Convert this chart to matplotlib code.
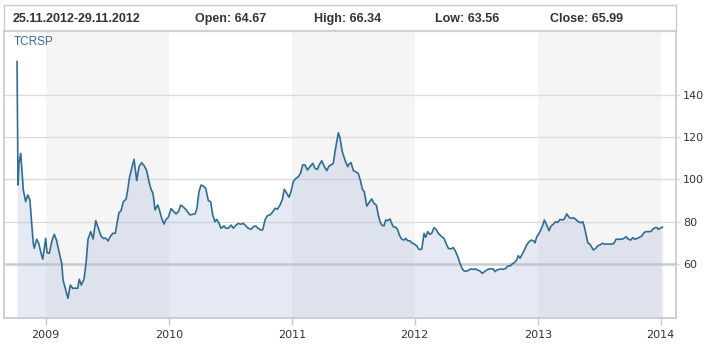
import matplotlib.pyplot as plt
from matplotlib.lines import Line2D

# weekly closes (decimal year, value)
t = [2008.767, 2008.775, 2008.783, 2008.797, 2008.818, 2008.837, 2008.854, 2008.872,
     2008.886, 2008.899, 2008.907, 2008.927, 2008.943, 2008.959, 2008.976, 2009.000,
     2009.011, 2009.029, 2009.051, 2009.070, 2009.089, 2009.108, 2009.130, 2009.141,
     2009.163, 2009.181, 2009.200, 2009.220, 2009.238, 2009.260, 2009.273, 2009.289,
     2009.311, 2009.328, 2009.344, 2009.366, 2009.385, 2009.407, 2009.428, 2009.450,
     2009.468, 2009.488, 2009.507, 2009.525, 2009.545, 2009.566, 2009.577, 2009.596,
     2009.612, 2009.631, 2009.653, 2009.667, 2009.680, 2009.699, 2009.718, 2009.740,
     2009.759, 2009.780, 2009.802, 2009.821, 2009.840, 2009.856, 2009.872, 2009.889,
     2009.911, 2009.927, 2009.943, 2009.962, 2009.978, 2009.997, 2010.019, 2010.037,
     2010.059, 2010.078, 2010.098, 2010.116, 2010.138, 2010.154, 2010.173, 2010.192,
     2010.214, 2010.230, 2010.246, 2010.263, 2010.281, 2010.301, 2010.322, 2010.341,
     2010.358, 2010.376, 2010.390, 2010.407, 2010.425, 2010.450, 2010.466, 2010.485,
     2010.507, 2010.525, 2010.547, 2010.566, 2010.585, 2010.607, 2010.628, 2010.647,
     2010.669, 2010.688, 2010.707, 2010.726, 2010.748, 2010.764, 2010.783, 2010.802,
     2010.824, 2010.846, 2010.864, 2010.883, 2010.905, 2010.924, 2010.940, 2010.959,
     2010.978, 2010.994, 2011.013, 2011.035, 2011.054, 2011.073, 2011.089, 2011.108,
     2011.127, 2011.149, 2011.171, 2011.189, 2011.208, 2011.224, 2011.244, 2011.263,
     2011.285, 2011.303, 2011.320, 2011.338, 2011.352, 2011.366, 2011.379, 2011.393,
     2011.411, 2011.428, 2011.441, 2011.455, 2011.468, 2011.482, 2011.501, 2011.520,
     2011.541, 2011.561, 2011.574, 2011.590, 2011.610, 2011.628, 2011.650, 2011.669,
     2011.688, 2011.704, 2011.718, 2011.732, 2011.750, 2011.764, 2011.780, 2011.799,
     2011.813, 2011.826, 2011.846, 2011.862, 2011.875, 2011.894, 2011.913, 2011.927,
     2011.943, 2011.962, 2011.980, 2011.997, 2012.016, 2012.035, 2012.057, 2012.076,
     2012.089, 2012.106, 2012.124, 2012.138, 2012.157, 2012.173, 2012.192, 2012.214,
     2012.238, 2012.254, 2012.273, 2012.293, 2012.314, 2012.333, 2012.350, 2012.368,
     2012.387, 2012.403, 2012.423, 2012.441, 2012.458, 2012.476, 2012.496, 2012.512,
     2012.531, 2012.550, 2012.566, 2012.585, 2012.604, 2012.620, 2012.639, 2012.653,
     2012.667, 2012.685, 2012.702, 2012.720, 2012.740, 2012.756, 2012.775, 2012.793,
     2012.810, 2012.829, 2012.842, 2012.856, 2012.875, 2012.891, 2012.911, 2012.929,
     2012.946, 2012.964, 2012.978, 2012.992, 2013.011, 2013.027, 2013.041, 2013.054,
     2013.073, 2013.092, 2013.108, 2013.127, 2013.146, 2013.163, 2013.181, 2013.200,
     2013.216, 2013.236, 2013.254, 2013.271, 2013.289, 2013.309, 2013.330, 2013.350,
     2013.366, 2013.379, 2013.393, 2013.407, 2013.425, 2013.439, 2013.452, 2013.472,
     2013.488, 2013.507, 2013.525, 2013.541, 2013.561, 2013.580, 2013.602, 2013.620,
     2013.637, 2013.655, 2013.677, 2013.696, 2013.718, 2013.737, 2013.756, 2013.772,
     2013.791, 2013.810, 2013.826, 2013.846, 2013.864, 2013.880, 2013.899, 2013.919,
     2013.935, 2013.954, 2013.968, 2013.980, 2013.994, 2014.013]
v = [155.8, 97.3, 107.6, 112.3, 95.0, 89.4, 92.6, 90.2,
     79.1, 69.7, 67.3, 71.6, 69.7, 65.7, 62.1, 72.0,
     65.2, 64.9, 70.9, 73.9, 70.9, 65.7, 60.2, 52.3,
     47.5, 43.6, 49.9, 48.3, 48.4, 48.3, 52.6, 49.9,
     52.6, 60.2, 71.6, 75.2, 71.7, 80.4, 76.8, 73.1,
     72.0, 72.1, 70.8, 72.8, 74.4, 74.4, 78.3, 84.2,
     85.0, 89.4, 90.5, 95.0, 100.5, 105.2, 109.5, 99.4,
     106.0, 107.9, 106.3, 104.1, 98.9, 95.3, 93.4, 85.5,
     87.8, 85.0, 81.5, 78.8, 81.0, 82.0, 86.1, 85.0,
     83.6, 84.6, 87.8, 87.0, 85.8, 84.6, 83.1, 83.4,
     83.6, 86.3, 94.1, 97.3, 96.8, 95.7, 89.9, 89.4,
     83.1, 79.9, 81.0, 79.4, 76.8, 77.9, 76.8, 76.8,
     78.3, 76.8, 78.3, 79.1, 78.7, 79.1, 77.9, 76.8,
     76.3, 77.5, 77.9, 76.8, 76.0, 76.0, 80.7, 82.8,
     83.1, 84.6, 86.3, 85.8, 87.8, 90.5, 95.3, 93.4,
     91.5, 94.1, 98.9, 100.5, 101.2, 103.1, 106.8, 106.8,
     104.4, 106.0, 107.6, 105.2, 104.7, 106.8, 108.8, 106.3,
     104.1, 106.3, 106.8, 107.6, 113.1, 117.8, 122.1, 119.4,
     113.1, 110.0, 107.9, 106.0, 107.3, 107.9, 104.1, 103.6,
     102.8, 98.9, 95.3, 94.1, 87.3, 88.9, 90.7, 88.6,
     87.8, 83.1, 79.9, 78.3, 77.9, 80.7, 80.4, 81.2,
     79.1, 77.5, 77.3, 76.0, 73.6, 71.6, 71.2, 72.0,
     70.9, 70.8, 69.7, 69.3, 68.4, 66.8, 66.8, 74.4,
     72.5, 75.2, 73.9, 74.4, 77.1, 76.3, 74.4, 73.1,
     72.0, 69.7, 67.3, 67.0, 67.6, 65.7, 63.3, 60.2,
     57.5, 56.5, 56.5, 57.0, 57.5, 57.3, 57.5, 57.0,
     56.5, 55.4, 56.2, 57.0, 57.5, 57.5, 57.5, 56.2,
     57.0, 57.3, 57.5, 57.3, 57.8, 58.9, 58.9, 59.9,
     60.5, 61.8, 63.8, 62.6, 64.6, 66.5, 68.9, 70.4,
     71.2, 70.9, 69.9, 72.8, 74.4, 76.3, 78.3, 80.7,
     78.3, 75.6, 77.9, 78.7, 79.9, 79.6, 81.0, 80.7,
     81.2, 83.6, 82.0, 81.5, 81.8, 81.0, 79.9, 79.4,
     79.9, 77.5, 73.6, 69.9, 69.2, 67.8, 66.5, 67.3,
     68.5, 68.9, 69.7, 69.3, 69.3, 69.3, 69.3, 69.7,
     71.6, 71.6, 71.6, 71.8, 72.8, 71.6, 71.2, 72.3,
     71.6, 72.0, 72.5, 73.1, 74.7, 75.2, 75.2, 75.2,
     76.3, 77.1, 77.1, 76.3, 76.8, 77.3]

years = [2009, 2010, 2011, 2012, 2013, 2014]
shaded_years = [2009, 2011, 2013]
y_ticks = [60, 80, 100, 120, 140]
ticker = "TCRSP"
header = ["25.11.2012-29.11.2012", "Open: 64.67", "High: 66.34", "Low: 63.56", "Close: 65.99"]
header_x = [13, 195, 314, 435, 550]  # px from left

W, H = 707, 344
fig = plt.figure(figsize=(W / 100, H / 100), dpi=100)
ax = fig.add_axes([4 / W, (H - 318) / H, 672 / W, 287 / H])

line_col = "#2f6e94"
grid_col = "#dcdcdc"

for y0 in shaded_years:
    ax.axvspan(y0, y0 + 1, color="#f5f5f5", lw=0, zorder=0)

for y in y_ticks:
    if y == 60:
        ax.axhline(y, color="#c9cbd3", lw=1.8, zorder=1)
    else:
        ax.axhline(y, color=grid_col, lw=1.0, zorder=1)

ax.fill_between(t, v, 0, color="#acb9da", alpha=0.3, lw=0, zorder=2)
ax.plot(t, v, color=line_col, lw=1.2, zorder=3)

ax.set_xlim(2008.661, 2014.124)
ax.set_ylim(34.26, 170.3)

ax.set_xticks(years)
ax.set_xticklabels([str(y) for y in years])
ax.yaxis.tick_right()
ax.set_yticks(y_ticks)
ax.tick_params(axis="y", direction="out", length=3, width=1, color=grid_col,
               pad=2, labelsize=8, labelcolor="#333333")
ax.tick_params(axis="x", direction="out", length=5, width=1, color="#c8c8c8",
               pad=4, labelsize=8, labelcolor="#333333")

for s in ["left", "right", "bottom"]:
    ax.spines[s].set_color("#c8c8c8")
    ax.spines[s].set_linewidth(1.2)
ax.spines["top"].set_visible(False)

# header box
def px(x, y):
    return x / W, (H - y) / H

fig.add_artist(Line2D(*zip(px(4, 5), px(676, 5)), color="#cccccc", lw=1))
fig.add_artist(Line2D(*zip(px(4, 31), px(676, 31)), color="#d0d0d0", lw=1.6))
fig.add_artist(Line2D(*zip(px(4, 5), px(4, 31)), color="#cccccc", lw=1))
fig.add_artist(Line2D(*zip(px(676, 5), px(676, 31)), color="#cccccc", lw=1))

for txt, x in zip(header, header_x):
    fig.text(*px(x, 19), txt, ha="left", va="center", fontsize=9,
             fontweight="bold", family="Liberation Sans", color="#333333")

fig.text(*px(14, 42), ticker, ha="left", va="center", fontsize=8.5,
         family="Liberation Sans", color=line_col)

fig.savefig("out.png", dpi=100)
